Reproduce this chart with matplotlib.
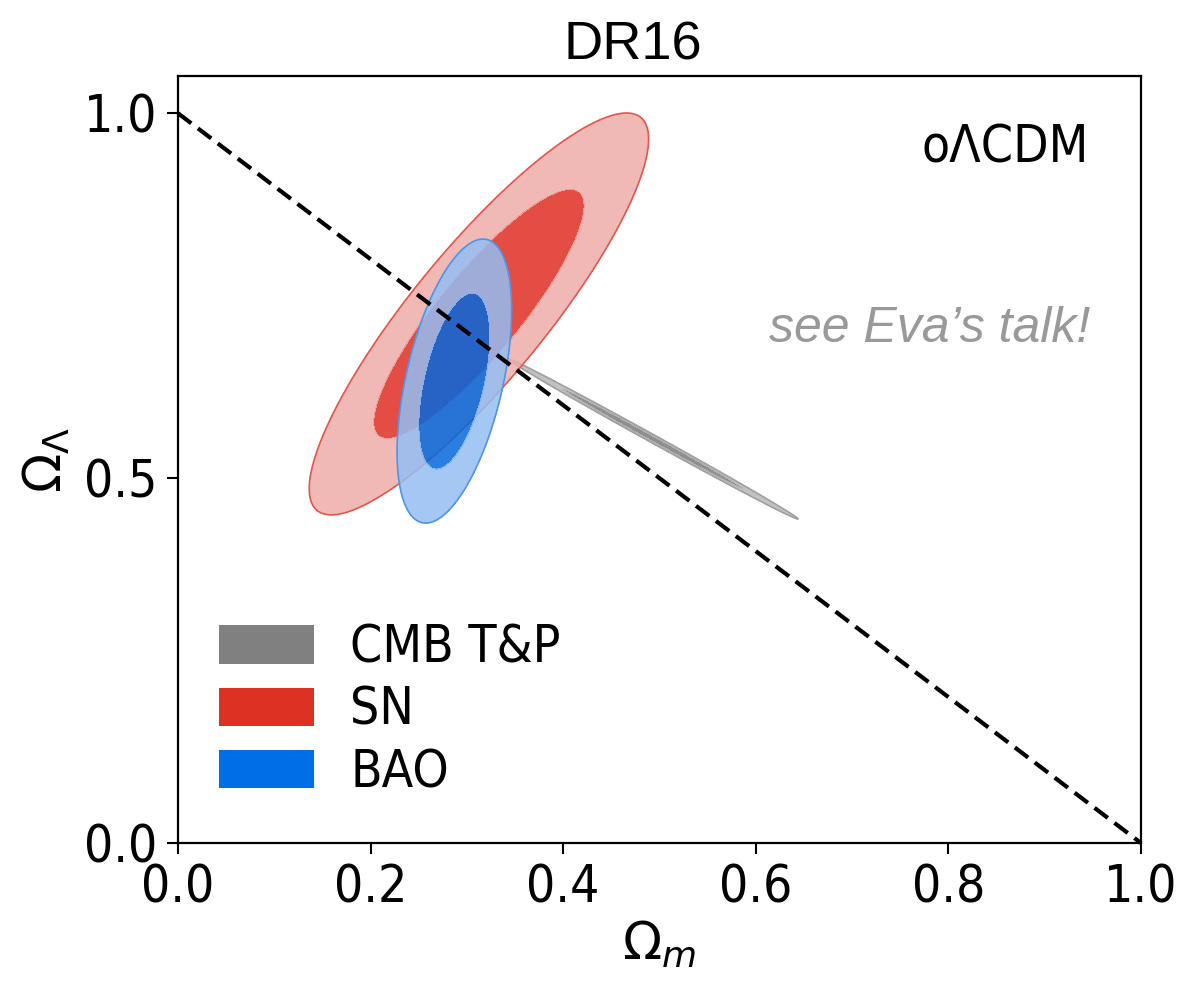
import numpy as np
import matplotlib
matplotlib.use("Agg")
import matplotlib.pyplot as plt
from matplotlib.patches import Patch
from matplotlib.font_manager import FontProperties

# ---- data ----
labels = ["CMB T&P", "SN", "BAO"]
# Gaussian contour parameters: mean (Om, OL), sigmas and correlation
means_om = [0.493, 0.3125, 0.287]
means_ol = [0.554, 0.725, 0.633]
sig_om = [0.0617, 0.072, 0.0243]
sig_ol = [0.045, 0.1125, 0.0795]
rhos = [-0.9984, 0.87, 0.5]
legend_colors = ["#808080", "#dd3124", "#006ee6"]
fill_outer = ["#b8b8b8", "#eeada9", "#95bef3"]
fill_inner = ["#7c7c7c", "#de2e23", "#0568dc"]
edge_colors = ["#a0a0a0", "#e5564c", "#4f94e6"]
chi2_levels = [2.30, 5.99]  # 68% and 95% in 2D

xticks = [0.0, 0.2, 0.4, 0.6, 0.8, 1.0]
yticks = [0.0, 0.5, 1.0]
flat_x = [0.0, 1.0]
flat_y = [1.0, 0.0]

# ---- figure ----
fig = plt.figure(figsize=(12.01, 9.94), dpi=100)
ax = fig.add_axes([0.1482, 0.1519, 0.8018, 0.7716])
ax.set_xlim(0, 1.0)
ax.set_ylim(0, 1.051)

cond = FontProperties(family="DejaVu Sans", stretch="condensed", size=37)

gx = np.linspace(0, 1.0, 1400)
gy = np.linspace(0, 1.051, 1400)
X, Y = np.meshgrid(gx, gy)
for i in range(3):
    dx = (X - means_om[i]) / sig_om[i]
    dy = (Y - means_ol[i]) / sig_ol[i]
    r = rhos[i]
    chi2 = (dx**2 - 2 * r * dx * dy + dy**2) / (1 - r**2)
    ax.contourf(X, Y, chi2, levels=[-1, chi2_levels[0], chi2_levels[1]],
                colors=[fill_inner[i], fill_outer[i]], alpha=0.85, zorder=1 + i)
    ax.contour(X, Y, chi2, levels=[chi2_levels[1]], colors=[edge_colors[i]],
               linewidths=1.2, zorder=1.5 + i)

ax.plot(flat_x, flat_y, color="black", lw=3.0, ls=(0, (4.0, 2.0)), zorder=10,
        clip_on=False)

ax.set_xticks(xticks)
ax.set_yticks(yticks)
ax.set_xticklabels([f"{v:.1f}" for v in xticks], fontproperties=cond)
ax.set_yticklabels([f"{v:.1f}" for v in yticks], fontproperties=cond)
ax.tick_params(direction="out", length=8, width=1.5, pad=7)
for s in ax.spines.values():
    s.set_linewidth(1.6)

mfont = dict(fontsize=37)
plt.rcParams["mathtext.fontset"] = "dejavusans"
ax.set_xlabel(r"$\Omega_m$", labelpad=4, **mfont)
ax.set_ylabel(r"$\Omega_\Lambda$", labelpad=8, **mfont)

fig.text(0.527, 0.9406, "DR16", family="Liberation Sans", fontsize=39,
         ha="center", va="baseline")

ax.text(0.946, 0.952, "o\u039bCDM", fontproperties=FontProperties(
    family="DejaVu Sans", stretch="condensed", size=37), ha="right", va="center")
ax.text(0.947, 0.705, "see Eva\u2019s talk!", family="Liberation Sans",
        style="italic", fontsize=36, color="#999999", ha="right", va="center")

handles = [Patch(facecolor=c, edgecolor="none") for c in legend_colors]
ax.legend(handles, labels, loc="lower left", bbox_to_anchor=(0.0155, 0.025),
          frameon=False, prop=FontProperties(family="DejaVu Sans",
                                             stretch="condensed", size=37),
          handlelength=1.86, handleheight=0.77, handletextpad=0.7,
          labelspacing=0.24, borderpad=0)

fig.savefig("out.png", dpi=100)
